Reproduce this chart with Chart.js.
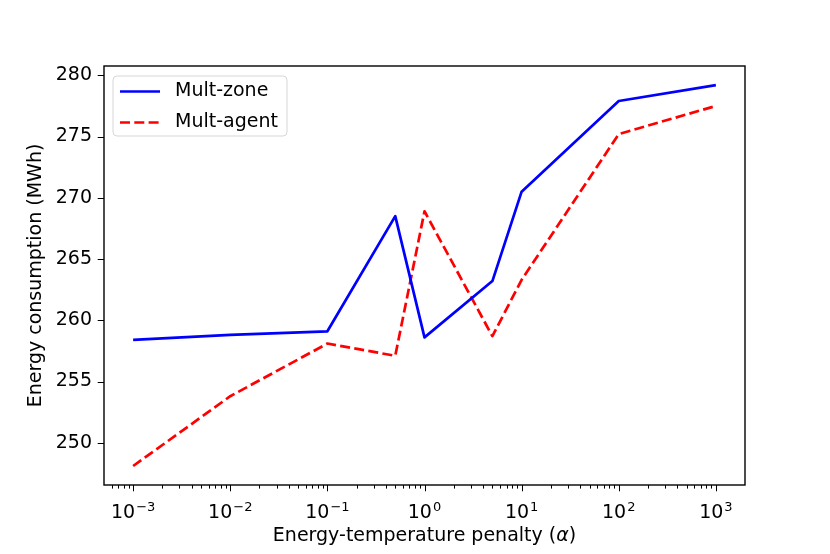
<!DOCTYPE html>
<html>
<head>
<meta charset="utf-8">
<script src="https://cdn.jsdelivr.net/npm/chart.js@4/dist/chart.umd.min.js"></script>
<style>
  html, body { margin: 0; padding: 0; background: #fff; }
  #wrap { width: 830px; height: 554px; }
</style>
</head>
<body>
<div id="wrap"><canvas id="chart" width="830" height="554"></canvas></div>
<script>
// values
var alphas = [0.001, 0.01, 0.1, 0.5, 1, 5, 10, 100, 1000];
var mult_zone = [258.4, 258.8, 259.1, 268.5, 258.6, 263.2, 270.5, 277.9, 279.2];
var mult_agent = [248.1, 253.8, 258.1, 257.1, 268.9, 258.7, 263.3, 275.2, 277.5];

var x_major = [1e-3, 1e-2, 1e-1, 1, 10, 100, 1000];
var x_exponents = ["\u22123", "\u22122", "\u22121", "0", "1", "2", "3"];
var y_ticks = [250, 255, 260, 265, 270, 275, 280];

var FONT = "'DejaVu Sans', sans-serif";
var FS = 19;

// minor ticks for the log axis: 2..9 x 10^k
var x_minor = [];
for (var k = -4; k <= 3; k++) {
  for (var m = 2; m <= 9; m++) x_minor.push(m * Math.pow(10, k));
}

// frame, tick marks, x labels and legend drawn matplotlib style
var framePlugin = {
  id: 'frame',
  afterDraw: function (chart) {
    var ctx = chart.ctx, a = chart.chartArea;
    var xs = chart.scales.x, ys = chart.scales.y;
    ctx.save();
    ctx.strokeStyle = '#000';
    ctx.lineWidth = 1;
    ctx.beginPath();
    x_major.forEach(function (v) {
      var px = Math.round(xs.getPixelForValue(v)) + 0.5;
      ctx.moveTo(px, a.bottom); ctx.lineTo(px, a.bottom + 6.3);
    });
    x_minor.forEach(function (v) {
      if (v < xs.min || v > xs.max) return;
      var px = Math.round(xs.getPixelForValue(v)) + 0.5;
      ctx.moveTo(px, a.bottom); ctx.lineTo(px, a.bottom + 3.6);
    });
    y_ticks.forEach(function (v) {
      var py = Math.round(ys.getPixelForValue(v)) + 0.5;
      ctx.moveTo(a.left, py); ctx.lineTo(a.left - 6.3, py);
    });
    ctx.stroke();

    // spines
    ctx.lineWidth = 1.4;
    ctx.strokeRect(a.left, a.top, a.right - a.left, a.bottom - a.top);

    // x tick labels: 10 with a raised exponent
    ctx.fillStyle = '#000';
    ctx.textBaseline = 'alphabetic';
    ctx.textAlign = 'left';
    var baseY = a.bottom + 33;
    x_major.forEach(function (v, i) {
      var px = xs.getPixelForValue(v);
      ctx.font = FS + 'px ' + FONT;
      var wb = ctx.measureText('10').width;
      ctx.font = Math.round(FS * 0.7) + 'px ' + FONT;
      var we = ctx.measureText(x_exponents[i]).width;
      var x0 = px - (wb + 1 + we) / 2;
      ctx.font = FS + 'px ' + FONT;
      ctx.fillText('10', x0, baseY);
      ctx.font = Math.round(FS * 0.7) + 'px ' + FONT;
      ctx.fillText(x_exponents[i], x0 + wb + 1, baseY - 7);
    });

    // x axis title with italic alpha
    var t1 = 'Energy-temperature penalty (', t2 = '\u03B1', t3 = ')';
    ctx.font = FS + 'px ' + FONT;
    var w1 = ctx.measureText(t1).width, w3 = ctx.measureText(t3).width;
    ctx.font = 'italic ' + FS + 'px ' + FONT;
    var w2 = ctx.measureText(t2).width;
    var tx = (a.left + a.right) / 2 - (w1 + w2 + w3) / 2;
    ctx.textBaseline = 'middle';
    ctx.font = FS + 'px ' + FONT;
    ctx.fillText(t1, tx, 536);
    ctx.font = 'italic ' + FS + 'px ' + FONT;
    ctx.fillText(t2, tx + w1, 536);
    ctx.font = FS + 'px ' + FONT;
    ctx.fillText(t3, tx + w1 + w2, 536);

    // legend
    var lx = 113, ly = 76, lw = 174, lh = 60, r = 4;
    ctx.beginPath();
    ctx.moveTo(lx + r, ly);
    ctx.arcTo(lx + lw, ly, lx + lw, ly + lh, r);
    ctx.arcTo(lx + lw, ly + lh, lx, ly + lh, r);
    ctx.arcTo(lx, ly + lh, lx, ly, r);
    ctx.arcTo(lx, ly, lx + lw, ly, r);
    ctx.closePath();
    ctx.fillStyle = 'rgba(255,255,255,0.8)';
    ctx.fill();
    ctx.strokeStyle = '#d6d6d6';
    ctx.lineWidth = 1;
    ctx.stroke();

    ctx.font = FS + 'px ' + FONT;
    ctx.textBaseline = 'middle';
    ctx.fillStyle = '#000';
    chart.data.datasets.forEach(function (ds, i) {
      var yy = ly + 15.5 + i * 31;
      ctx.strokeStyle = ds.borderColor;
      ctx.lineWidth = ds.borderWidth;
      ctx.setLineDash(ds.borderDash || []);
      ctx.lineCap = 'butt';
      ctx.beginPath();
      ctx.moveTo(120, yy); ctx.lineTo(160, yy);
      ctx.stroke();
      ctx.setLineDash([]);
      ctx.fillText(ds.label, 175, yy);
    });
    ctx.restore();
  }
};

new Chart(document.getElementById('chart'), {
  type: 'line',
  data: {
    labels: alphas,
    datasets: [{
      label: 'Mult-zone',
      data: alphas.map(function (a, i) { return { x: a, y: mult_zone[i] }; }),
      borderColor: '#0000ff',
      borderWidth: 2.7,
      borderJoinStyle: 'round',
      pointRadius: 0,
      tension: 0,
      fill: false
    }, {
      label: 'Mult-agent',
      data: alphas.map(function (a, i) { return { x: a, y: mult_agent[i] }; }),
      borderColor: '#ff0000',
      borderWidth: 2.7,
      borderDash: [10, 4.3],
      borderJoinStyle: 'round',
      pointRadius: 0,
      tension: 0,
      fill: false
    }]
  },
  options: {
    responsive: false,
    animation: false,
    layout: { padding: { left: 0, right: 85, top: 66, bottom: 0 } },
    plugins: {
      legend: { display: false },
      tooltip: { enabled: false }
    },
    scales: {
      x: {
        type: 'logarithmic',
        min: Math.pow(10, -3.3),
        max: Math.pow(10, 3.3),
        afterBuildTicks: function (scale) {
          scale.ticks = x_major.map(function (v) { return { value: v }; });
        },
        afterFit: function (scale) { scale.height = 69; },
        grid: { display: false },
        border: { display: false },
        ticks: { display: false },
        title: { display: false }
      },
      y: {
        min: 246.55,
        max: 280.76,
        afterBuildTicks: function (scale) {
          scale.ticks = y_ticks.map(function (v) { return { value: v }; });
        },
        afterFit: function (scale) { scale.width = 104; },
        grid: { display: true, drawOnChartArea: false, drawTicks: false },
        border: { display: false },
        ticks: {
          padding: 12,
          color: '#000',
          font: { family: FONT, size: FS }
        },
        title: {
          display: true,
          text: 'Energy consumption (MWh)',
          color: '#000',
          font: { family: FONT, size: FS },
          padding: { top: 24.5, bottom: 0 }
        }
      }
    }
  },
  plugins: [framePlugin]
});
</script>
</body>
</html>
